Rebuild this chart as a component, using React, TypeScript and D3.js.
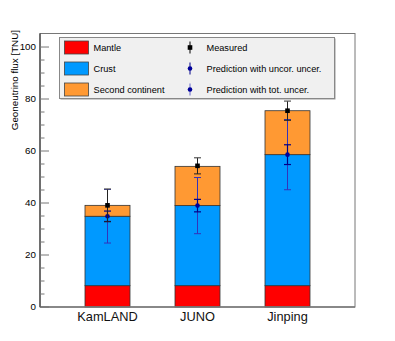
import React from "react";
import * as d3 from "d3";

// values (TNU)
const experiments = ["KamLAND", "JUNO", "Jinping"];
const mantle = [8.2, 8.2, 8.2];
const crust = [26.7, 30.8, 50.4];
const secondContinent = [4.2, 15.1, 16.9];
const measured = [39.1, 54.3, 75.5];
const measuredErr = [6.3, 3.1, 3.7];
const predicted = [34.9, 39.0, 58.6];
const predUncorErr = [2.0, 2.4, 3.8];
const predTotErr = [10.3, 10.8, 13.5];
const yTicks = [0, 20, 40, 60, 80, 100];

const legendBoxes = [
  { label: "Mantle", color: "#ff0000" },
  { label: "Crust", color: "#0099ff" },
  { label: "Second continent", color: "#ff9933" },
];
const legendMarks = ["Measured", "Prediction with uncor. uncer.", "Prediction with tot. uncer."];

const W = 395;
const H = 341;
const margin = { top: 33.5, right: 40, bottom: 34, left: 40 };
const font = "Liberation Sans, Arial, sans-serif";

export default function App() {
  const x = d3.scaleLinear().domain([-0.75, 2.75]).range([margin.left, W - margin.right]);
  const y = d3.scaleLinear().domain([0, 105.2]).range([H - margin.bottom, margin.top]);
  const barW = x(0.5) - x(0);
  const minor = d3.range(0, 105, 5);

  const stack = experiments.map((_, i) => {
    const a = mantle[i];
    const b = a + crust[i];
    const c = b + secondContinent[i];
    return [
      { y0: 0, y1: a, color: legendBoxes[0].color },
      { y0: a, y1: b, color: legendBoxes[1].color },
      { y0: b, y1: c, color: legendBoxes[2].color },
    ];
  });

  const cap = (cx: number, v: number, w: number, color: string, sw = 1.2) => (
    <line x1={cx - w} x2={cx + w} y1={y(v)} y2={y(v)} stroke={color} strokeWidth={sw} />
  );

  return (
    <svg width={W} height={H} style={{ position: "absolute", left: 0, top: 0 }} fontFamily={font}>
      <rect width={W} height={H} fill="#fff" />

      {/* bars */}
      {stack.map((segs, i) =>
        segs.map((s, j) => (
          <rect
            key={`${i}-${j}`}
            x={x(i) - barW / 2}
            y={y(s.y1)}
            width={barW}
            height={y(s.y0) - y(s.y1)}
            fill={s.color}
            stroke="#333"
            strokeWidth={0.8}
          />
        ))
      )}

      {/* prediction error bars */}
      {experiments.map((_, i) => {
        const cx = x(i);
        return (
          <g key={"p" + i}>
            <line x1={cx} x2={cx} y1={y(predicted[i] - predTotErr[i])} y2={y(predicted[i] + predTotErr[i])} stroke="#3333bb" strokeWidth={1} />
            {cap(cx, predicted[i] - predTotErr[i], 3.5, "#3333bb", 1)}
            {cap(cx, predicted[i] + predTotErr[i], 3.5, "#3333bb", 1)}
            <line x1={cx} x2={cx} y1={y(predicted[i] - predUncorErr[i])} y2={y(predicted[i] + predUncorErr[i])} stroke="#000088" strokeWidth={1.2} />
            {cap(cx, predicted[i] - predUncorErr[i], 3.5, "#000088")}
            {cap(cx, predicted[i] + predUncorErr[i], 3.5, "#000088")}
            <circle cx={cx} cy={y(predicted[i])} r={2.3} fill="#000099" />
          </g>
        );
      })}

      {/* measured */}
      {experiments.map((_, i) => {
        const cx = x(i);
        return (
          <g key={"m" + i}>
            <line x1={cx} x2={cx} y1={y(measured[i] - measuredErr[i])} y2={y(measured[i] + measuredErr[i])} stroke="#222" strokeWidth={1} />
            {cap(cx, measured[i] - measuredErr[i], 3.5, "#222", 1)}
            {cap(cx, measured[i] + measuredErr[i], 3.5, "#555", 1.2)}
            <rect x={cx - 2.3} y={y(measured[i]) - 2.3} width={4.6} height={4.6} fill="#000" />
          </g>
        );
      })}

      {/* frame */}
      <rect
        x={margin.left}
        y={margin.top}
        width={W - margin.left - margin.right}
        height={H - margin.top - margin.bottom}
        fill="none"
        stroke="#777"
        strokeWidth={1}
      />
      <line x1={margin.left} x2={W - margin.right} y1={y(0)} y2={y(0)} stroke="#777" strokeWidth={1.6} />
      <line x1={margin.left} x2={margin.left} y1={y(0)} y2={margin.top} stroke="#222" strokeWidth={1} />

      {/* y ticks */}
      {minor.map((v) => (
        <line
          key={"t" + v}
          x1={margin.left}
          x2={margin.left + (v % 20 === 0 ? 9 : 4.5)}
          y1={y(v)}
          y2={y(v)}
          stroke="#777"
          strokeWidth={1}
        />
      ))}
      {yTicks.map((v) => (
        <text key={"l" + v} x={margin.left - 4} y={y(v)} dy="0.35em" textAnchor="end" fontSize={9.8} fill="#000">
          {v}
        </text>
      ))}
      <text
        transform={`translate(17.5,30) rotate(-90)`}
        textAnchor="end"
        fontSize={9.8}
        fill="#000"
      >
        Geoneutrino flux [TNU]
      </text>

      {/* x labels */}
      {experiments.map((e, i) => (
        <text key={e} x={x(i)} y={321} textAnchor="middle" fontSize={12.8} fill="#111">
          {e}
        </text>
      ))}

      {/* legend */}
      <rect x={60.5} y={38.5} width={275} height={61} fill="#999" />
      <rect x={59.5} y={37.5} width={275} height={61} fill="#f0f0f0" stroke="#888" strokeWidth={1} />
      {legendBoxes.map((d, k) => {
        const cy = 47.5 + k * 21;
        return (
          <g key={d.label}>
            <rect x={64.5} y={cy - 6.5} width={24} height={13} fill={d.color} stroke="#444" strokeWidth={0.8} />
            <text x={93.5} y={cy} dy="0.35em" fontSize={9.2} fill="#000">
              {d.label}
            </text>
          </g>
        );
      })}
      {legendMarks.map((label, k) => {
        const cy = 47.5 + k * 21;
        const cx = 190;
        return (
          <g key={label}>
            {k === 0 ? (
              <>
                <line x1={cx} x2={cx} y1={cy - 6} y2={cy + 6} stroke="#000" strokeWidth={1} />
                <rect x={cx - 2.3} y={cy - 2.3} width={4.6} height={4.6} fill="#000" />
              </>
            ) : (
              <>
                <line x1={cx} x2={cx} y1={cy - 6} y2={cy + 6} stroke={k === 1 ? "#000088" : "#6666cc"} strokeWidth={1} />
                <circle cx={cx} cy={cy} r={2.3} fill="#000099" />
              </>
            )}
            <text x={206.5} y={cy} dy="0.35em" fontSize={9.2} fill="#000">
              {label}
            </text>
          </g>
        );
      })}
    </svg>
  );
}
